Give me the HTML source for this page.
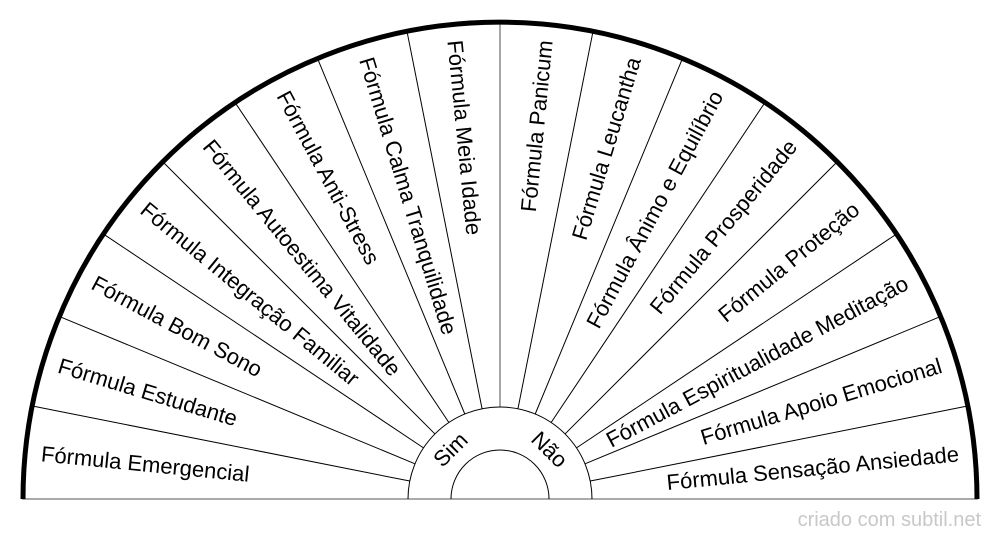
<!DOCTYPE html>
<html><head><meta charset="utf-8"><style>
html,body{margin:0;padding:0;background:#fff;}
svg{display:block;}
text{font-family:"Liberation Sans",Arial,sans-serif;}
</style></head><body>
<svg width="1000" height="540" viewBox="0 0 1000 540" xmlns="http://www.w3.org/2000/svg">
<g transform="translate(500,499)">
  <g stroke="#000" stroke-width="1">
    <line x1="-92" y1="0" x2="-478" y2="0" transform="rotate(11.25)"/>
    <line x1="-92" y1="0" x2="-478" y2="0" transform="rotate(22.5)"/>
    <line x1="-92" y1="0" x2="-478" y2="0" transform="rotate(33.75)"/>
    <line x1="-92" y1="0" x2="-478" y2="0" transform="rotate(45)"/>
    <line x1="-92" y1="0" x2="-478" y2="0" transform="rotate(56.25)"/>
    <line x1="-92" y1="0" x2="-478" y2="0" transform="rotate(67.5)"/>
    <line x1="-92" y1="0" x2="-478" y2="0" transform="rotate(78.75)"/>
    <line x1="-92" y1="0" x2="-478" y2="0" transform="rotate(101.25)"/>
    <line x1="-92" y1="0" x2="-478" y2="0" transform="rotate(112.5)"/>
    <line x1="-92" y1="0" x2="-478" y2="0" transform="rotate(123.75)"/>
    <line x1="-92" y1="0" x2="-478" y2="0" transform="rotate(135)"/>
    <line x1="-92" y1="0" x2="-478" y2="0" transform="rotate(146.25)"/>
    <line x1="-92" y1="0" x2="-478" y2="0" transform="rotate(157.5)"/>
    <line x1="-92" y1="0" x2="-478" y2="0" transform="rotate(168.75)"/>
  </g>
  <line x1="0" y1="-92" x2="0" y2="-478" stroke="#777" stroke-width="1.3"/>
  <line x1="-478" y1="0" x2="478" y2="0" stroke="#777" stroke-width="1.3"/>
  <path d="M-92,0 A92,92 0 0 1 92,0" fill="none" stroke="#000" stroke-width="1"/>
  <path d="M-49,0 A49,49 0 0 1 49,0" fill="none" stroke="#000" stroke-width="1"/>
  <path d="M-477,0 A477,477 0 0 1 477,0" fill="none" stroke="#000" stroke-width="5"/>
  <g font-size="22" fill="#000" dominant-baseline="central">
    <text x="-461" y="0" transform="rotate(5.625)">Fórmula Emergencial</text>
    <text x="-461" y="0" transform="rotate(16.875)">Fórmula Estudante</text>
    <text x="-461" y="0" transform="rotate(28.125)">Fórmula Bom Sono</text>
    <text x="-461" y="0" transform="rotate(39.375)">Fórmula Integração Familiar</text>
    <text x="-461" y="0" transform="rotate(50.625)">Fórmula Autoestima Vitalidade</text>
    <text x="-461" y="0" transform="rotate(61.875)">Fórmula Anti-Stress</text>
    <text x="-461" y="0" transform="rotate(73.125)">Fórmula Calma Tranquilidade</text>
    <text x="-461" y="0" transform="rotate(84.375)">Fórmula Meia Idade</text>
    <g text-anchor="end">
    <text x="461" y="0" transform="rotate(-84.375)">Fórmula Panicum</text>
    <text x="461" y="0" transform="rotate(-73.125)">Fórmula Leucantha</text>
    <text x="461" y="0" transform="rotate(-61.875)">Fórmula Ânimo e Equilíbrio</text>
    <text x="461" y="0" transform="rotate(-50.625)">Fórmula Prosperidade</text>
    <text x="461" y="0" transform="rotate(-39.375)">Fórmula Proteção</text>
    <text x="461" y="0" transform="rotate(-28.125)">Fórmula Espiritualidade Meditação</text>
    <text x="461" y="0" transform="rotate(-16.875)">Fórmula Apoio Emocional</text>
    <text x="461" y="0" transform="rotate(-5.625)">Fórmula Sensação Ansiedade</text>
    </g>
    <text x="0" y="0" text-anchor="middle" transform="rotate(-45) translate(0,-70)">Sim</text>
    <text x="0" y="0" text-anchor="middle" transform="rotate(45) translate(0,-70)">Não</text>
  </g>
</g>
<text x="981" y="526" text-anchor="end" font-size="20" fill="#c8c8c8">criado com subtil.net</text>
</svg>
</body></html>
